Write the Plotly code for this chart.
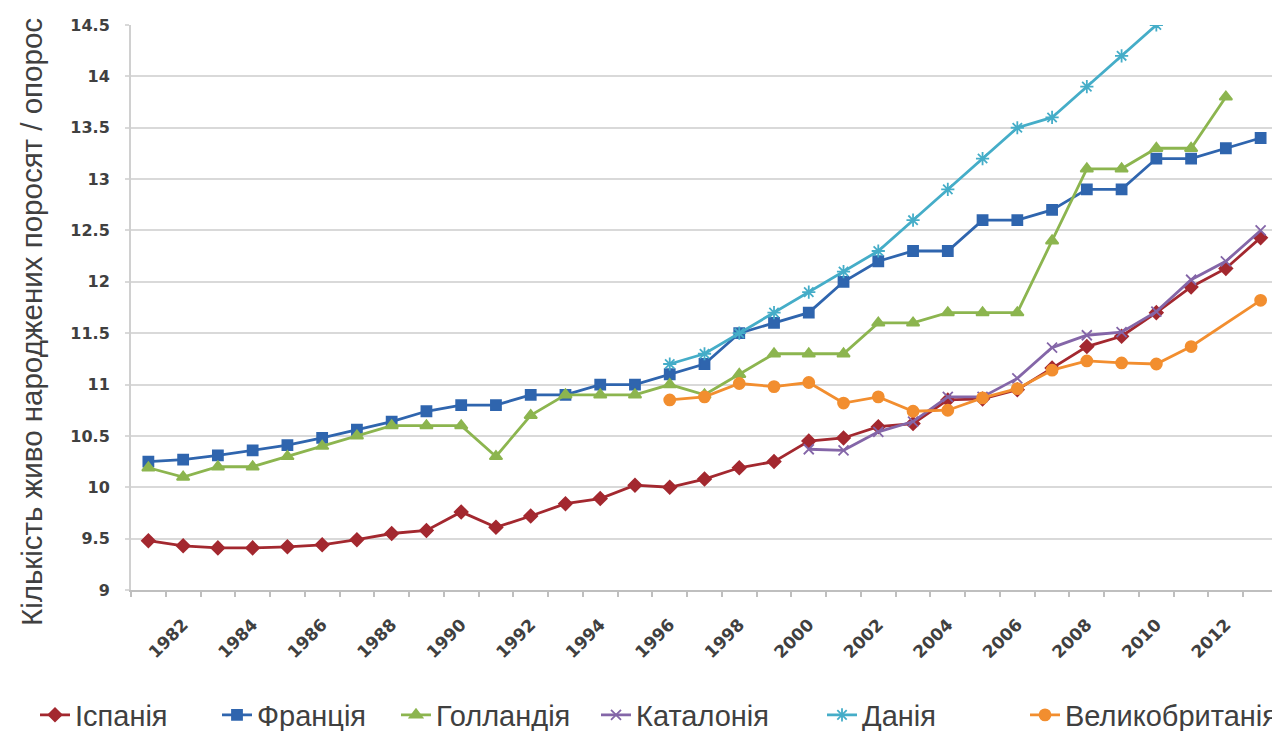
import plotly.graph_objects as go

years = list(range(1981, 2014))
tick_years = list(range(1982, 2013, 2))
tick_labels = [str(y) for y in tick_years]
y_title = "Кількість живо народжених поросят / опорос"

spain = [9.48, 9.43, 9.41, 9.41, 9.42, 9.44, 9.49, 9.55, 9.58, 9.76, 9.61, 9.72,
         9.84, 9.89, 10.02, 10.00, 10.08, 10.19, 10.25, 10.45, 10.48, 10.59, 10.62,
         10.85, 10.86, 10.95, 11.16, 11.37, 11.47, 11.70, 11.95, 12.13, 12.43]
france = [10.25, 10.27, 10.31, 10.36, 10.41, 10.48, 10.56, 10.64, 10.74, 10.80, 10.80,
          10.90, 10.90, 11.00, 11.00, 11.10, 11.20, 11.50, 11.60, 11.70, 12.00, 12.20,
          12.30, 12.30, 12.60, 12.60, 12.70, 12.90, 12.90, 13.20, 13.20, 13.30, 13.40]
netherlands = [10.19, 10.10, 10.20, 10.20, 10.30, 10.40, 10.50, 10.60, 10.60, 10.60, 10.30,
               10.70, 10.90, 10.90, 10.90, 11.00, 10.90, 11.10, 11.30, 11.30, 11.30, 11.60,
               11.60, 11.70, 11.70, 11.70, 12.40, 13.10, 13.10, 13.30, 13.30, 13.80, None]
catalonia = [None] * 19 + [10.37, 10.36, 10.54, 10.64, 10.88, 10.88, 11.06, 11.36,
                           11.48, 11.51, 11.71, 12.02, 12.20, 12.50]
denmark = [None] * 15 + [11.20, 11.30, 11.50, 11.70, 11.90, 12.10, 12.30, 12.60, 12.90,
                         13.20, 13.50, 13.60, 13.90, 14.20, 14.50, None, None, None]
uk = [None] * 15 + [10.85, 10.88, 11.01, 10.98, 11.02, 10.82, 10.88, 10.74, 10.75,
                    10.87, 10.96, 11.14, 11.23, 11.21, 11.20, 11.37, None, 11.82]

series = [
    ("Іспанія", spain, "#A3282F", "diamond", 10),
    ("Франція", france, "#2F65AE", "square", 10),
    ("Голландія", netherlands, "#8CB54F", "triangle-up", 11),
    ("Каталонія", catalonia, "#8466A8", "x-thin-open", 10),
    ("Данія", denmark, "#45ADC8", "asterisk-open", 11),
    ("Великобританія", uk, "#F28E2F", "circle", 11),
]

# legend entry left positions (page pixels)
legend_left = [35, 217, 396, 596, 822, 1025]

W, H = 1272, 723
ML, MR, MT, MB = 123, 2, 17, 141
PW, PH = W - ML - MR, H - MT - MB

fig = go.Figure()
layout_legends = {}
for i, (name, vals, color, sym, size) in enumerate(series):
    key = "legend" if i == 0 else f"legend{i + 1}"
    fig.add_trace(go.Scatter(
        x=years, y=vals, name=name, mode="lines+markers",
        connectgaps=True, legend=key,
        line=dict(color=color, width=2.8),
        marker=dict(symbol=sym, size=size, color=color,
                    line=dict(color=color, width=1.8)),
    ))
    layout_legends[key] = dict(
        orientation="h", xref="container", yref="container",
        x=(legend_left[i] - 8) / W, xanchor="left",
        y=1 - (715 - 8) / H, yanchor="middle",
        font=dict(size=29, family="Liberation Sans, Arial", color="#404040"),
        bgcolor="rgba(0,0,0,0)",
    )

fig.update_layout(
    width=W, height=H,
    paper_bgcolor="white", plot_bgcolor="white",
    margin=dict(l=ML, r=MR, t=MT, b=MB),
    font=dict(family="Liberation Sans, Arial, sans-serif", color="#404040"),
    showlegend=True,
    annotations=[dict(
        text=y_title, textangle=-90, showarrow=False,
        xref="paper", yref="paper",
        x=((31 - 8) - ML) / PW, y=((H - MB) - (322 - 8)) / PH,
        xanchor="center", yanchor="middle",
        font=dict(size=29.5, family="Liberation Sans, Arial", color="#404040"),
    )],
    **layout_legends,
)

fig.update_xaxes(
    automargin=False,
    range=[1980.5, 2013.5],
    tickmode="array", tickvals=tick_years, ticktext=tick_labels,
    tickangle=-45, ticks="", ticklabelstandoff=16,
    tickfont=dict(size=17, color="#404040", family="DejaVu Sans", weight="bold"),
    showline=True, linecolor="#BFBFBF", linewidth=2,
    showgrid=False, zeroline=False,
    minor=dict(ticks="outside", tick0=1980.5, dtick=1, ticklen=5,
               tickcolor="#BFBFBF", tickwidth=1.5, showgrid=False),
)

fig.update_yaxes(
    automargin=False,
    range=[9, 14.5], dtick=0.5, tick0=9,
    ticks="outside", ticklen=4, tickcolor="#D9D9D9", tickwidth=2,
    ticklabelstandoff=12,
    tickfont=dict(size=16, color="#404040", family="DejaVu Sans", weight="bold"),
    showline=True, linecolor="#D0D0D0", linewidth=2,
    showgrid=True, gridcolor="#D9D9D9", gridwidth=2,
    zeroline=False,
)

fig.write_html("out.html")
